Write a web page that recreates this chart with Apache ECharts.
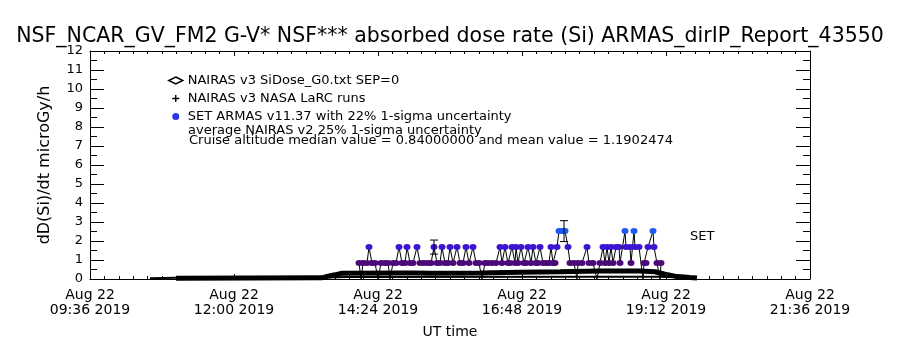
<!DOCTYPE html>
<html>
<head>
<meta charset="utf-8">
<script src="https://cdn.jsdelivr.net/npm/echarts@6/dist/echarts.min.js"></script>
<style>html,body{margin:0;padding:0;background:#fff}#c{width:900px;height:350px}</style>
</head>
<body>
<div id="c"></div>
<script>
// ---- data (time in UT minutes of 2019-08-22) ----
const titleText = 'NSF_NCAR_GV_FM2 G-V* NSF*** absorbed dose rate (Si) ARMAS_dirIP_Report_43550';
const yTitle = 'dD(Si)/dt microGy/h';
const xTitle = 'UT time';
const seriesNames = ['NAIRAS v3 SiDose_G0.txt SEP=0', 'NAIRAS v3 NASA LaRC runs', 'SET ARMAS v11.37 with 22% 1-sigma uncertainty'];
const noteLines = ['average NAIRAS v2 25% 1-sigma uncertainty', 'Cruise altitude median value = 0.84000000 and mean value = 1.1902474'];
const sideLabel = 'SET';

const nairasSiTime = [662, 736, 808, 814, 821, 828, 886, 901, 916, 966, 1006, 1046, 1086, 1126, 1141, 1151, 1161, 1176, 1183];
const nairasSiDose = [0.04, 0.05, 0.06, 0.15, 0.22, 0.30, 0.32, 0.32, 0.30, 0.32, 0.35, 0.38, 0.42, 0.42, 0.38, 0.25, 0.15, 0.08, 0.05];

const larcTime = [636, 662, 808, 831, 1086, 1146, 1183];
const larcDose = [0.04, 0.06, 0.07, 0.10, 0.12, 0.12, 0.05];

const armasTime = [845,847,849,853,855,858,861,864,867,871,874,876,879,882,885,888,891,893,896,899,
  903,906,910,914,917,920,923,926,928,931,934,936,939,943,946,949,952,955,959,962,
  965,968,971,974,978,982,986,988,991,994,996,998,1001,1002,1004,1007,1010,1012,1014,1017,
  1019,1022,1024,1026,1029,1032,1035,1037,1039,1041,1043,1045,1048,1051,1054,1056,1060,1063,1064,1068,
  1073,1075,1079,1083,1086,1089,1091,1093,1095,1097,1099,1102,1105,1106,1111,1112,1116,1117,1120,1121,
  1125,1129,1130,1132,1134,1139,1140,1143,1146,1147];
const armasDose = [0.84,0,0.84,0.84,1.68,0.84,0.84,0,0.84,0.84,0.84,0,0.84,0.84,1.68,0.84,0.84,1.68,0.84,0.84,
  1.68,0.84,0.84,0.84,0.84,1.68,0.84,0.84,1.68,0.84,0.84,1.68,0.84,1.68,0.84,0.84,1.68,0.84,1.68,0.84,
  0.84,0,0.84,0.84,0.84,0.84,1.68,0.84,1.68,0.84,0.84,1.68,0.84,1.68,0.84,1.68,0.84,0.84,1.68,0.84,
  1.68,0.84,0.84,1.68,0.84,0.84,0.84,1.68,0.84,0.84,1.68,2.52,2.52,2.52,1.68,0.84,0.84,0,0.84,0.84,
  1.68,0.84,0.84,0,0.84,1.68,0.84,1.68,0.84,1.68,0.84,1.68,1.68,0.84,2.52,1.68,1.68,0.84,2.52,1.68,
  1.68,0,0.84,0.84,1.68,2.52,1.68,0.84,0,0.84];

const errTime = [920, 1050];
const errLow = [1.31, 1.97];
const errHigh = [2.05, 3.07];

const xMin = 576, xMax = 1296, xStep = 144;
const yMin = 0, yMax = 12, yStep = 1;

// ---- chart ----
const FONT = 'DejaVu Sans';
function doseColor(v) {
  if (v < 0.4) return '#000000';
  if (v < 1.2) return '#4c0a78';
  if (v < 2.0) return '#3c14d2';
  return '#1e5af5';
}
function fmtTime(v) {
  const h = Math.floor(v / 60), m = Math.round(v % 60);
  return 'Aug 22\n' + String(h).padStart(2, '0') + ':' + String(m).padStart(2, '0') + ' 2019';
}
const zip = (a, b) => a.map((t, i) => [t, b[i]]);

const xBase = {
  type: 'value', min: xMin, max: xMax, interval: xStep,
  axisLine: { show: true, onZero: false, lineStyle: { color: '#000', width: 1 } },
  axisTick: { show: true, inside: true, length: 5, lineStyle: { color: '#000' } },
  minorTick: { show: true, splitNumber: 10, length: 3, lineStyle: { color: '#000' } },
  splitLine: { show: false }, minorSplitLine: { show: false }
};
const yBase = {
  type: 'value', min: yMin, max: yMax, interval: yStep,
  axisLine: { show: true, onZero: false, lineStyle: { color: '#000', width: 1 } },
  axisTick: { show: true, inside: true, length: 14, lineStyle: { color: '#000' } },
  minorTick: { show: true, splitNumber: 2, length: 7, lineStyle: { color: '#000' } },
  splitLine: { show: false }, minorSplitLine: { show: false }
};

const chart = echarts.init(document.getElementById('c'), null, { renderer: 'canvas' });
chart.setOption({
  animation: false,
  backgroundColor: '#fff',
  textStyle: { fontFamily: FONT, color: '#000' },
  title: {
    text: titleText, left: 'center', top: 21,
    textStyle: { fontFamily: FONT, fontSize: 20.5, fontWeight: 'normal', color: '#000' }
  },
  grid: { left: 90, right: 90, top: 51, bottom: 71, containLabel: false },
  xAxis: [
    Object.assign({}, xBase, {
      position: 'bottom', name: xTitle, nameLocation: 'middle', nameGap: 46,
      nameTextStyle: { fontFamily: FONT, fontSize: 14, color: '#000' },
      axisLabel: { show: true, formatter: fmtTime, margin: 9, lineHeight: 15, fontSize: 14, color: '#000', fontFamily: FONT,
        showMinLabel: true, showMaxLabel: true }
    }),
    Object.assign({}, xBase, { position: 'top', axisLabel: { show: false } })
  ],
  yAxis: [
    Object.assign({}, yBase, {
      position: 'left', name: yTitle, nameLocation: 'middle', nameGap: 37, nameRotate: 90,
      nameTextStyle: { fontFamily: FONT, fontSize: 16, color: '#000' },
      axisLabel: { show: true, margin: 7, fontSize: 13, color: '#000', fontFamily: FONT,
        showMinLabel: true, showMaxLabel: true }
    }),
    Object.assign({}, yBase, { position: 'right', axisLabel: { show: false } })
  ],
  legend: {
    orient: 'vertical', left: 168, top: 74, padding: 0,
    itemWidth: 14, itemHeight: 7, itemGap: 5, selectedMode: false,
    textStyle: { fontFamily: FONT, fontSize: 13, color: '#000', lineHeight: 13 },
    data: [
      { name: seriesNames[0], icon: 'diamond', itemStyle: { color: '#fff', borderColor: '#000', borderWidth: 1.5 } },
      { name: seriesNames[1], icon: 'path://M4,0H6V4H10V6H6V10H4V6H0V4H4Z', itemStyle: { color: '#000', borderWidth: 0 } },
      { name: seriesNames[2], icon: 'circle', itemStyle: { color: '#2838e6', borderWidth: 0 } }
    ]
  },
  graphic: [
    { type: 'text', left: 188, top: 124, style: { text: noteLines[0], font: '13px "DejaVu Sans"', fill: '#000' } },
    { type: 'text', left: 189, top: 134, style: { text: noteLines[1], font: '13px "DejaVu Sans"', fill: '#000' } },
    { type: 'text', left: 690, top: 230, style: { text: sideLabel, font: '13px "DejaVu Sans"', fill: '#000' } }
  ],
  series: [
    {
      name: seriesNames[2], type: 'line', xAxisIndex: 0, yAxisIndex: 0, z: 2,
      data: zip(armasTime, armasDose),
      symbol: 'circle', showSymbol: true,
      symbolSize: v => (v[1] < 0.4 ? 0 : [7, 6]),
      lineStyle: { color: '#000', width: 1 },
      itemStyle: { color: p => doseColor(p.value[1]), borderWidth: 0 }
    },
    {
      name: seriesNames[0], type: 'line', z: 3,
      data: zip(nairasSiTime, nairasSiDose),
      showSymbol: false, symbol: 'none',
      lineStyle: { color: '#000', width: 5 }, itemStyle: { color: '#000' }
    },
    {
      name: seriesNames[1], type: 'line', z: 3,
      data: zip(larcTime, larcDose),
      showSymbol: false, symbol: 'none',
      lineStyle: { color: '#000', width: 2 }, itemStyle: { color: '#000' }
    },
    {
      name: 'err', type: 'custom', z: 4,
      data: errTime.map((t, i) => [t, errLow[i], errHigh[i]]),
      renderItem: (params, api) => {
        const lo = api.coord([api.value(0), api.value(1)]);
        const hi = api.coord([api.value(0), api.value(2)]);
        const w = 4;
        const st = { stroke: '#000', lineWidth: 1 };
        return { type: 'group', children: [
          { type: 'line', shape: { x1: lo[0], y1: lo[1], x2: hi[0], y2: hi[1] }, style: st },
          { type: 'line', shape: { x1: lo[0] - w, y1: lo[1], x2: lo[0] + w, y2: lo[1] }, style: st },
          { type: 'line', shape: { x1: hi[0] - w, y1: hi[1], x2: hi[0] + w, y2: hi[1] }, style: st }
        ]};
      }
    }
  ]
});
</script>
</body>
</html>
